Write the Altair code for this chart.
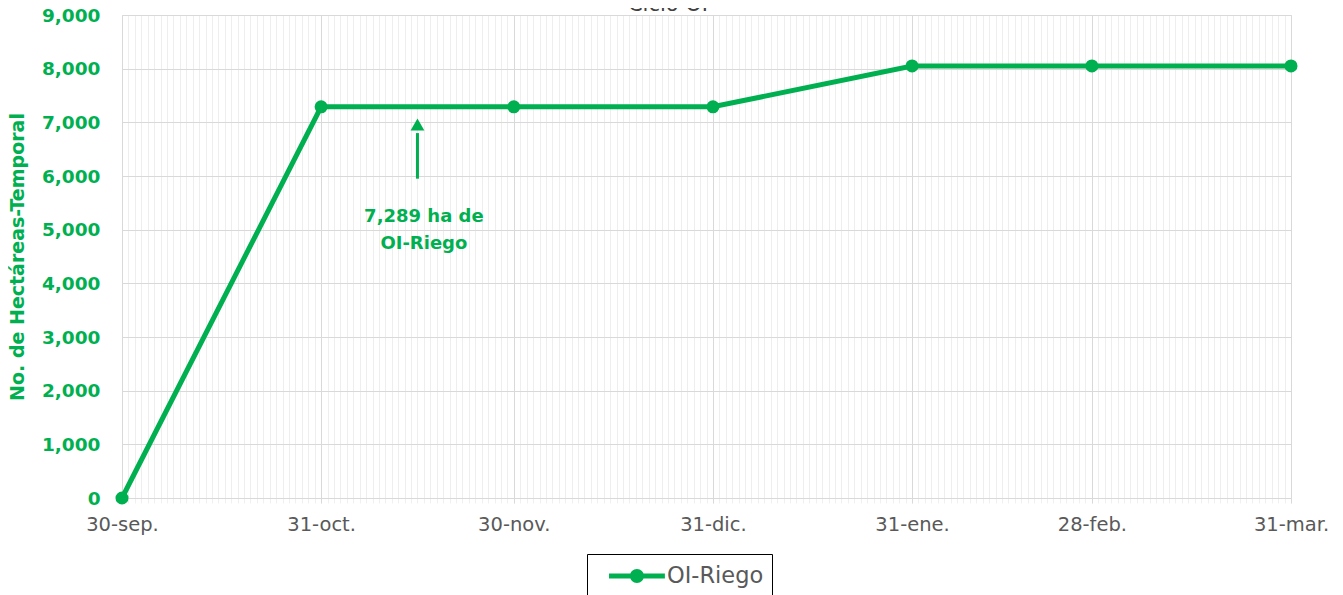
import altair as alt
import pandas as pd

# ---- data ----
dates = ["2024-09-30", "2024-10-31", "2024-11-30", "2024-12-31", "2025-01-31", "2025-02-28", "2025-03-31"]
hectares = [0, 7289, 7289, 7289, 8050, 8050, 8050]
series_name = "OI-Riego"
chart_title = "Ciclo OI"
y_title = "No. de Hectáreas-Temporal"
y_ticks = [0, 1000, 2000, 3000, 4000, 5000, 6000, 7000, 8000, 9000]
annot_lines = ["7,289 ha de", "OI-Riego"]
annot_date = "2024-11-16"
annot_y = 5230
arrow_date = "2024-11-15"
arrow_tail = 5950
arrow_head_base = 6800
arrow_tip = 6960
title_date = "2024-12-24"

GREEN = "#00B050"
FONT = "DejaVu Sans"

df = pd.DataFrame({"date": dates, "value": hectares, "serie": [series_name] * len(dates)})

month_ts = [int(pd.Timestamp(d, tz="UTC").timestamp() * 1000) for d in dates]
label_expr = ("utcdate(datum.value) + '-' + ['ene.','feb.','mar.','abr.','may.','jun.','jul.','ago.','sep.','oct.','nov.','dic.'][utcmonth(datum.value)]")

xscale = alt.Scale(type="utc", domain=[month_ts[0], month_ts[-1]], nice=False)
yscale = alt.Scale(domain=[0, 9000], nice=False)

W, H = 1169, 483

# legend symbol: line with a dot (unit coords, shifted right so it spans ~56px)
legend_symbol = ("M-1,-0.18 L3,-0.18 L3,0.18 L-1,0.18 Z "
                 "M0.5,0 A0.5,0.5 0 1,1 1.5,0 A0.5,0.5 0 1,1 0.5,0 Z")

# minor (daily) grid layer
minor = alt.Chart(df).mark_point(opacity=0).encode(
    x=alt.X("date:T", scale=xscale,
            axis=alt.Axis(orient="bottom", labels=False, title=None, domain=False,
                          tickCount={"interval": "day", "step": 1},
                          grid=True, gridColor="#eeeeee", gridWidth=1,
                          ticks=True, tickColor="#f0f0f0", tickSize=5)),
)

line = alt.Chart(df).mark_line(
    color=GREEN, strokeWidth=5,
    point=alt.OverlayMarkDef(filled=True, size=170, color=GREEN, opacity=1),
).encode(
    x=alt.X("date:T", scale=xscale,
            axis=alt.Axis(orient="bottom", values=month_ts, labelExpr=label_expr, title=None,
                          grid=True, gridColor="#d9d9d9", gridWidth=1,
                          domain=True, domainColor="#d9d9d9", domainWidth=1,
                          ticks=True, tickColor="#d9d9d9", tickSize=5,
                          labelFont=FONT, labelFontSize=19.5, labelColor="#595959",
                          labelPadding=12, labelOverlap=False, labelFlush=False,
                          labelBound=False)),
    y=alt.Y("value:Q", scale=yscale,
            axis=alt.Axis(orient="left", values=y_ticks,
                          labelExpr="format(datum.value, ',.0f')",
                          title=y_title, titleFont=FONT, titleFontSize=19, titleFontWeight="bold",
                          titleColor=GREEN, titleX=-105, titleY=H / 2, titleAngle=-90,
                          titleAlign="center", titleBaseline="middle",
                          grid=True, gridColor="#d9d9d9", gridWidth=1,
                          domain=False, ticks=False,
                          labelFont=FONT, labelFontSize=18.5, labelFontWeight="bold",
                          labelColor=GREEN, labelPadding=22, labelFlush=False)),
    color=alt.Color("serie:N", scale=alt.Scale(range=[GREEN]),
                    legend=alt.Legend(title=None, orient="none", legendX=465, legendY=539,
                                      strokeColor="black", padding=8,
                                      fillColor="white", symbolOffset=14,
                                      labelFont=FONT, labelFontSize=22.5, labelColor="#595959",
                                      symbolType=legend_symbol, symbolSize=780,
                                      symbolFillColor=GREEN, symbolStrokeWidth=0,
                                      labelOffset=30)),
)

arrow_df = pd.DataFrame({"date": [arrow_date], "y0": [arrow_tail], "y1": [arrow_head_base], "tip": [arrow_tip]})
arrow_shaft = alt.Chart(arrow_df).mark_rule(color=GREEN, strokeWidth=3).encode(
    x=alt.X("date:T", scale=xscale, axis=None),
    y=alt.Y("y0:Q", scale=yscale), y2="y1:Q"
)
arrow_head = alt.Chart(arrow_df).mark_point(
    shape="triangle-up", filled=True, size=190, color=GREEN, opacity=1
).encode(x=alt.X("date:T", scale=xscale, axis=None),
         y=alt.Y("tip:Q", scale=yscale))

annot_df = pd.DataFrame({"date": [annot_date], "y": [annot_y], "t": [annot_lines]})
annot = alt.Chart(annot_df).mark_text(
    font=FONT, fontSize=18, fontWeight="bold", color=GREEN, align="center", baseline="middle",
    lineHeight=27
).encode(x=alt.X("date:T", scale=xscale, axis=None),
         y=alt.Y("y:Q", scale=yscale), text="t")

title_df = pd.DataFrame({"date": [title_date], "t": [chart_title]})
title = alt.Chart(title_df).mark_text(
    font=FONT, fontSize=21, color="#404040", align="center", baseline="alphabetic"
).encode(x=alt.X("date:T", scale=xscale, axis=None), y=alt.value(-4), text="t")

chart = alt.layer(minor, line, arrow_shaft, arrow_head, annot, title).resolve_axis(
    x="independent"
).properties(
    width=W, height=H,
    autosize=alt.AutoSizeParams(type="none"),
    padding={"left": 114, "top": 7, "right": 44, "bottom": 120},
).configure_view(stroke="#d9d9d9", strokeWidth=1)

chart.save("out.html", embed_options={"renderer": "svg", "actions": False})
